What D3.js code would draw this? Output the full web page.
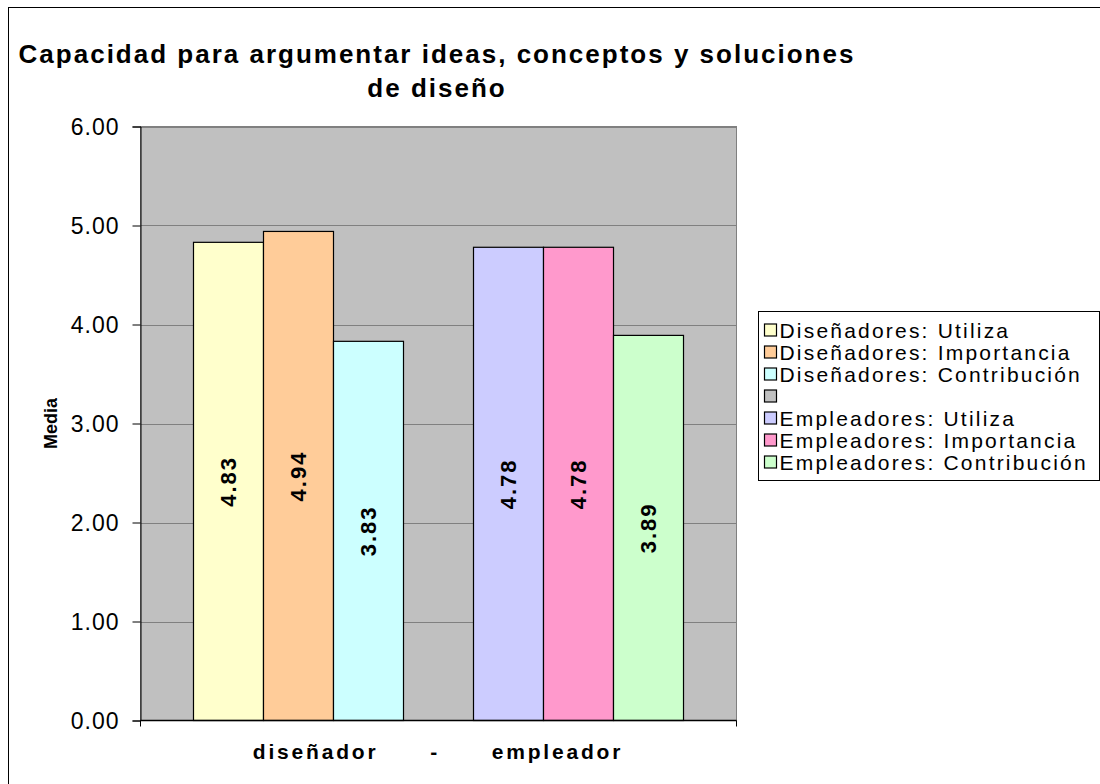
<!DOCTYPE html>
<html>
<head>
<meta charset="utf-8">
<script src="https://cdn.jsdelivr.net/npm/d3@7"></script>
<style>
  html, body { margin: 0; padding: 0; background: #fff; }
  svg { display: block; font-family: Arial, "Liberation Sans", sans-serif; }
</style>
</head>
<body>
<svg id="chart" width="1100" height="784"></svg>
<script>
// ---- data ----
const titleLines = ["Capacidad para argumentar ideas, conceptos y soluciones", "de diseño"];
const categoryLabel = "diseñador      -      empleador";
const yAxisTitle = "Media";
const seriesNames = [
  "Diseñadores: Utiliza",
  "Diseñadores: Importancia",
  "Diseñadores: Contribución",
  "",
  "Empleadores: Utiliza",
  "Empleadores: Importancia",
  "Empleadores: Contribución"
];
const seriesValues = [4.83, 4.94, 3.83, null, 4.78, 4.78, 3.89];
const seriesColors = ["#FFFFCC", "#FFCC99", "#CCFFFF", "#C0C0C0", "#CCCCFF", "#FF99CC", "#CCFFCC"];
const yTicks = [0, 1, 2, 3, 4, 5, 6];

// ---- layout ----
const svg = d3.select("#chart");
const plot = { left: 140.5, right: 736.5, top: 126.5, bottom: 720.5 };

svg.append("rect")
  .attr("x", 8.5).attr("y", 7.5)
  .attr("width", 1200).attr("height", 900)
  .attr("fill", "#fff").attr("stroke", "#000").attr("stroke-width", 1);

svg.append("text")
  .attr("text-anchor", "middle")
  .style("font-weight", "bold").style("font-size", "26px").style("letter-spacing", "2px")
  .selectAll("tspan").data(titleLines).join("tspan")
  .attr("x", 437).attr("y", (d, i) => 63 + i * 34)
  .text(d => d);

const y = d3.scaleLinear().domain([0, 6]).range([plot.bottom, plot.top]);
const x = d3.scaleBand().domain(d3.range(seriesNames.length))
  .range([plot.left, plot.right]).paddingInner(0).paddingOuter(0.757);

svg.append("rect")
  .attr("x", plot.left).attr("y", plot.top)
  .attr("width", plot.right - plot.left).attr("height", plot.bottom - plot.top)
  .attr("fill", "#C0C0C0").attr("stroke", "#808080").attr("stroke-width", 1);

svg.append("g").selectAll("line").data(yTicks.filter(t => t > 0)).join("line")
  .attr("x1", plot.left).attr("x2", plot.right)
  .attr("y1", d => Math.round(y(d)) + 0.5).attr("y2", d => Math.round(y(d)) + 0.5)
  .attr("stroke", "#808080").attr("stroke-width", 1);

const yAxis = d3.axisLeft(y).tickValues(yTicks).tickFormat(d3.format(".2f")).tickSize(8).tickPadding(13);
const gy = svg.append("g").attr("transform", `translate(${plot.left},0)`).call(yAxis);
gy.select(".domain").attr("stroke", "#000");
gy.selectAll(".tick line").attr("stroke", "#000");
gy.selectAll(".tick text")
  .attr("fill", "#000")
  .style("font-family", "Arial, 'Liberation Sans', sans-serif")
  .style("font-size", "23px").style("letter-spacing", "1px")
  .attr("dy", "0.36em");

svg.append("g").selectAll("rect")
  .data(seriesValues.map((v, i) => ({ v, i })).filter(d => d.v != null))
  .join("rect")
  .attr("x", d => x(d.i)).attr("width", x.bandwidth())
  .attr("y", d => y(d.v)).attr("height", d => y(0) - y(d.v))
  .attr("fill", d => seriesColors[d.i])
  .attr("stroke", "#000").attr("stroke-width", 1.2);

svg.append("line")
  .attr("x1", plot.left).attr("x2", plot.right)
  .attr("y1", plot.bottom).attr("y2", plot.bottom)
  .attr("stroke", "#000").attr("stroke-width", 1.5);
svg.append("line")
  .attr("x1", plot.left).attr("x2", plot.left)
  .attr("y1", plot.bottom).attr("y2", plot.bottom + 6)
  .attr("stroke", "#000");
svg.append("line")
  .attr("x1", plot.right).attr("x2", plot.right)
  .attr("y1", plot.bottom).attr("y2", plot.bottom + 6)
  .attr("stroke", "#000");

svg.append("g").selectAll("text")
  .data(seriesValues.map((v, i) => ({ v, i })).filter(d => d.v != null))
  .join("text")
  .attr("transform", d => `translate(${x(d.i) + x.bandwidth() / 2},${(y(d.v) + y(0)) / 2}) rotate(-90)`)
  .attr("text-anchor", "middle").attr("dy", "0.36em")
  .style("font-weight", "bold").style("font-size", "22px").style("letter-spacing", "2px")
  .text(d => d.v.toFixed(2));

svg.append("text")
  .attr("x", 438).attr("y", 759)
  .attr("text-anchor", "middle")
  .style("white-space", "pre")
  .style("font-weight", "bold").style("font-size", "21px").style("letter-spacing", "2.8px")
  .text(categoryLabel);

svg.append("text")
  .attr("transform", `translate(57,${(plot.top + plot.bottom) / 2}) rotate(-90)`)
  .attr("text-anchor", "middle")
  .style("font-weight", "bold").style("font-size", "18px")
  .text(yAxisTitle);

const legend = { left: 758.5, top: 311.5, right: 1099.5, pitch: 22 };
svg.append("rect")
  .attr("x", legend.left).attr("y", legend.top)
  .attr("width", legend.right - legend.left).attr("height", 15 + legend.pitch * 7)
  .attr("fill", "#fff").attr("stroke", "#000").attr("stroke-width", 1);
const li = svg.append("g").selectAll("g").data(seriesNames).join("g")
  .attr("transform", (d, i) => `translate(${legend.left},${legend.top + 18.5 + i * legend.pitch})`);
li.append("rect")
  .attr("x", 6).attr("y", -6).attr("width", 12).attr("height", 12)
  .attr("fill", (d, i) => seriesColors[i]).attr("stroke", "#000").attr("stroke-width", 1.2);
li.append("text")
  .attr("x", 21).attr("dy", "0.36em")
  .style("font-size", "21px").style("letter-spacing", "2.2px")
  .text(d => d);
</script>
</body>
</html>
